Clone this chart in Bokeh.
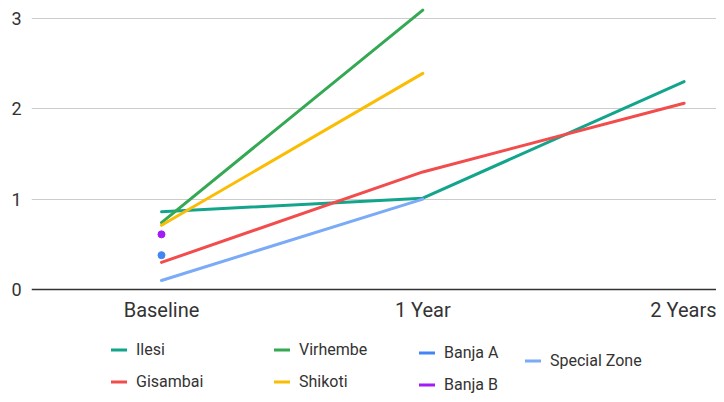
import math
from bokeh.plotting import figure
from bokeh.models import Legend, LegendItem, FixedTicker, ColumnDataSource, Range1d
from bokeh.embed import file_html
from bokeh.resources import INLINE

nan = float("nan")

categories = ["Baseline", "1 Year", "2 Years"]
ilesi = [0.86, 1.01, 2.30]
gisambai = [0.30, 1.30, 2.06]
virhembe = [0.74, 3.09, nan]
shikoti = [0.71, 2.39, nan]
banja_a = [0.38, nan, nan]
banja_b = [0.61, nan, nan]
special_zone = [0.10, 1.00, nan]
y_ticks = [0, 1, 2, 3]

series = [
    ("Ilesi", ilesi, "#13a58c"),
    ("Gisambai", gisambai, "#f24c4c"),
    ("Virhembe", virhembe, "#34a853"),
    ("Shikoti", shikoti, "#fbbc04"),
    ("Banja A", banja_a, "#4285f4"),
    ("Banja B", banja_b, "#a11cf5"),
    ("Special Zone", special_zone, "#7baaf7"),
]

xs = list(range(len(categories)))

W, H = 716, 394
p = figure(width=W, height=H, output_backend="svg", toolbar_location=None,
           x_range=Range1d(-0.4975, 2.124), y_range=Range1d(-1.161, 3.196),
           min_border_left=31, min_border_right=0, min_border_top=0, min_border_bottom=0)
p.outline_line_color = None
p.background_fill_color = "white"
p.border_fill_color = "white"

renderers = {}
for name, vals, color in series:
    src = ColumnDataSource(dict(x=xs, y=vals))
    r = p.line("x", "y", source=src, line_color=color, line_width=3, line_cap="round")
    finite = [(x, v) for x, v in zip(xs, vals) if not math.isnan(v)]
    if len(finite) == 1:
        psrc = ColumnDataSource(dict(x=[finite[0][0]], y=[finite[0][1]]))
        p.scatter("x", "y", source=psrc, size=7, fill_color=color, line_color=color)
    renderers[name] = r

# axes
p.xaxis.fixed_location = 0
p.xaxis.ticker = FixedTicker(ticks=xs)
p.xaxis.major_label_overrides = {i: c for i, c in enumerate(categories)}
p.xaxis.axis_line_color = "#333333"
p.xaxis.axis_line_width = 1.5
p.xaxis.major_tick_line_color = None
p.xaxis.minor_tick_line_color = None
p.xaxis.major_tick_out = 0
p.xaxis.major_tick_in = 0
p.xaxis.major_label_standoff = 8
p.xaxis.major_label_text_font = "Roboto"
p.xaxis.major_label_text_font_size = "20px"
p.xaxis.major_label_text_color = "#333333"

p.yaxis.ticker = FixedTicker(ticks=y_ticks)
p.yaxis.axis_line_color = None
p.yaxis.major_tick_line_color = None
p.yaxis.minor_tick_line_color = None
p.yaxis.major_tick_out = 0
p.yaxis.major_tick_in = 0
p.yaxis.major_label_standoff = 10
p.yaxis.major_label_text_font = "Roboto"
p.yaxis.major_label_text_font_size = "18px"
p.yaxis.major_label_text_color = "#333333"

p.xgrid.grid_line_color = None
p.ygrid.ticker = FixedTicker(ticks=[1, 2, 3])
p.ygrid.grid_line_color = "#cccccc"
p.ygrid.grid_line_width = 1.2

# legends (irregular layout, several small legends)
legend_cols = [
    (["Ilesi", "Gisambai"], (80, 3)),
    (["Virhembe", "Shikoti"], (243, 3)),
    (["Banja A", "Banja B"], (388, 0)),
    (["Special Zone"], (494, 24)),
]
for names, loc in legend_cols:
    lg = Legend(items=[LegendItem(label=n, renderers=[renderers[n]]) for n in names],
                location=loc, orientation="vertical")
    lg.border_line_color = None
    lg.background_fill_alpha = 0
    lg.padding = 0
    lg.margin = 0
    lg.spacing = 13
    lg.glyph_width = 16
    lg.glyph_height = 19
    lg.label_height = 19
    lg.label_standoff = 9
    lg.label_text_font = "Roboto"
    lg.label_text_font_size = "16px"
    lg.label_text_color = "#333333"
    p.add_layout(lg, "center")

open("out.html", "w").write(file_html(p, INLINE))
